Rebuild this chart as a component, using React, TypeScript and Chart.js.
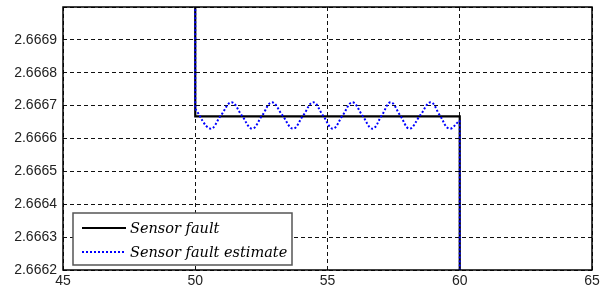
import React, { useEffect, useRef } from "react";
import { Chart, registerables } from "chart.js";

Chart.register(...registerables);

const xTicks = [45, 50, 55, 60, 65];
const yTicks = [2.6662, 2.6663, 2.6664, 2.6665, 2.6666, 2.6667, 2.6668, 2.6669, 2.667];

const faultX = [50, 50, 60, 60];
const faultY = [2.6672, 2.666667, 2.666667, 2.6661];

const estX = [50.0, 50.57, 50.97, 51.37, 51.76, 52.15, 52.53, 52.9, 53.3, 53.7, 54.08, 54.46, 54.83, 55.2, 55.57, 55.94, 56.32, 56.7, 57.05, 57.39, 57.75, 58.1, 58.5, 58.9, 59.25, 59.6, 60.0];
const estY = [2.66669, 2.66663, 2.66667, 2.66671, 2.66667, 2.66663, 2.66667, 2.66671, 2.66667, 2.66663, 2.66667, 2.66671, 2.66667, 2.66663, 2.66667, 2.66671, 2.66667, 2.66663, 2.66667, 2.66671, 2.66667, 2.66663, 2.66667, 2.66671, 2.66667, 2.66663, 2.666655];

const estStartX = [50, 50];
const estStartY = [2.6672, 2.66669];
const estEndX = [60, 60];
const estEndY = [2.666655, 2.6661];

const labels = ["Sensor fault", "Sensor fault estimate"];

const pts = (xs: number[], ys: number[]) => xs.map((x, i) => ({ x, y: ys[i] }));

const framePlugin = {
  id: "frameLegend",
  afterDatasetsDraw(chart: any) {
    const { ctx, chartArea: a } = chart;
    ctx.save();
    ctx.strokeStyle = "#000";
    ctx.lineWidth = 1.5;
    ctx.setLineDash([]);
    ctx.strokeRect(a.left, a.top, a.right - a.left, a.bottom - a.top);

    // legend box
    const bx = 73, by = 213, bw = 219, bh = 52;
    ctx.fillStyle = "#fff";
    ctx.fillRect(bx, by, bw, bh);
    ctx.strokeStyle = "#555";
    ctx.lineWidth = 1.5;
    ctx.strokeRect(bx, by, bw, bh);

    const rows = [228, 252];
    const ds = chart.data.datasets;
    for (let i = 0; i < 2; i++) {
      const d = ds[i];
      ctx.beginPath();
      ctx.strokeStyle = d.borderColor;
      ctx.lineWidth = d.borderWidth;
      ctx.setLineDash(d.borderDash || []);
      ctx.moveTo(82, rows[i]);
      ctx.lineTo(126, rows[i]);
      ctx.stroke();
      ctx.setLineDash([]);
      ctx.fillStyle = "#000";
      ctx.font = "italic 14.5px 'DejaVu Serif'";
      ctx.textBaseline = "middle";
      ctx.textAlign = "left";
      ctx.fillText(d.label, 130, rows[i] + 1);
    }
    ctx.restore();
  },
};

export default function App() {
  const ref = useRef<HTMLCanvasElement | null>(null);
  useEffect(() => {
    if (!ref.current) return;
    const chart = new Chart(ref.current, {
      type: "line",
      data: {
        datasets: [
          {
            label: labels[0],
            data: pts(faultX, faultY),
            borderColor: "#000",
            borderWidth: 2.2,
            pointRadius: 0,
            tension: 0,
            order: 2,
          },
          {
            label: labels[1],
            data: pts(estX, estY),
            borderColor: "#0000ff",
            borderWidth: 2,
            borderDash: [2, 2],
            pointRadius: 0,
            tension: 0.4,
            order: 1,
          },
          {
            label: "",
            data: pts(estStartX, estStartY),
            borderColor: "#0000ff",
            borderWidth: 2,
            borderDash: [2, 2],
            pointRadius: 0,
            order: 1,
          },
          {
            label: "",
            data: pts(estEndX, estEndY),
            borderColor: "#0000ff",
            borderWidth: 2,
            borderDash: [2, 2],
            pointRadius: 0,
            order: 1,
          },
        ],
      },
      options: {
        animation: false,
        responsive: false,
        parsing: true,
        layout: { padding: { top: 7, right: 13, left: 0, bottom: 0 } },
        plugins: { legend: { display: false }, tooltip: { enabled: false } },
        scales: {
          x: {
            type: "linear",
            min: 45,
            max: 65,
            afterBuildTicks: (s: any) => {
              s.ticks = xTicks.map((v) => ({ value: v }));
            },
            afterFit: (s: any) => {
              s.height = 23;
            },
            grid: { color: "#111", lineWidth: 1, drawTicks: false },
            border: { display: false, dash: [4, 3] },
            ticks: {
              color: "#222",
              font: { family: "'Liberation Sans'", size: 14 },
              padding: 3,
              maxRotation: 0,
              callback: (v: any) => String(v),
            },
          },
          y: {
            type: "linear",
            min: 2.6662,
            max: 2.667,
            afterBuildTicks: (s: any) => {
              s.ticks = yTicks.map((v) => ({ value: v }));
            },
            afterFit: (s: any) => {
              s.width = 63;
              s.paddingTop = 0;
              s.paddingBottom = 0;
            },
            grid: { color: "#111", lineWidth: 1, drawTicks: false },
            border: { display: false, dash: [4, 3] },
            ticks: {
              color: "#222",
              font: { family: "'Liberation Sans'", size: 14 },
              padding: 6,
              callback: (v: any) => (Math.abs(v - 2.667) < 1e-9 ? "" : Number(v).toFixed(4)),
            },
          },
        },
      },
      plugins: [framePlugin],
    });
    return () => chart.destroy();
  }, []);
  return (
    <div style={{ position: "fixed", left: 0, top: 0, width: 605, height: 293, background: "#fff" }}>
      <canvas ref={ref} width={605} height={293} style={{ width: 605, height: 293 }} />
    </div>
  );
}
